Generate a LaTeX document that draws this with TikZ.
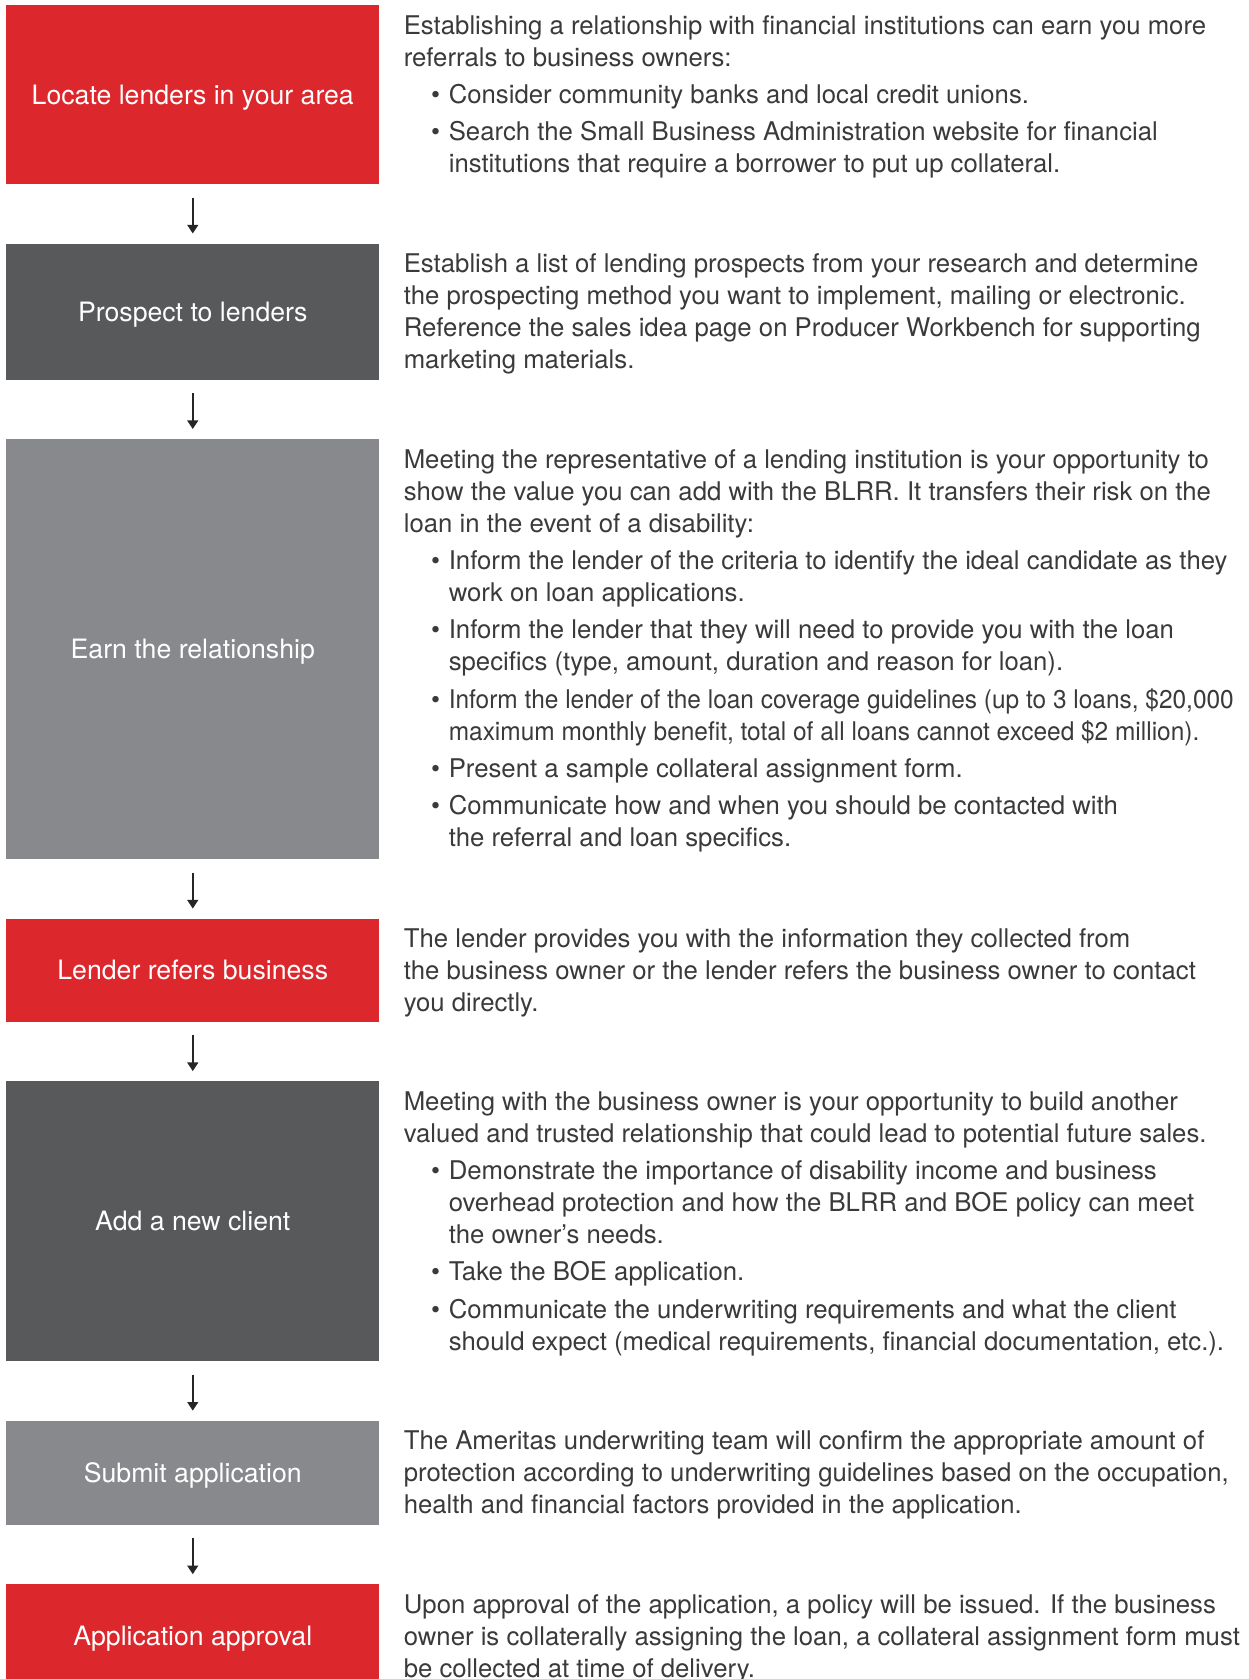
\documentclass[tikz,border=0pt]{standalone}
\usepackage{fontspec}
\setmainfont{TeX Gyre Heros}
\usepackage{graphicx}
\usepackage{tikz}
\usetikzlibrary{arrows.meta, positioning}
\definecolor{stepred}{RGB}{220,39,45}
\definecolor{stepdark}{RGB}{88,89,91}
\definecolor{steplight}{RGB}{136,137,140}
\definecolor{bodygray}{RGB}{58,58,60}
\newcommand{\bulletitem}{\hspace*{20.5pt}\makebox[13.25pt][l]{\textbullet}}
\newcommand{\bulletcont}{\hspace*{33.75pt}}
\newcommand{\narrow}[1]{\scalebox{0.95}[1]{#1}}
\tikzset{
  stepbox/.style={minimum width=279.75pt, inner sep=0pt, text=white, text height=14pt, text depth=0pt, font=\fontsize{20}{24}\selectfont},
  redbox/.style={stepbox, fill=stepred},
  darkbox/.style={stepbox, fill=stepdark},
  lightbox/.style={stepbox, fill=steplight},
  desc/.style={align=left, inner sep=0pt, text=bodygray, font=\fontsize{19.3}{24}\selectfont, execute at begin node=\strut},
  flow/.style={-{Triangle[length=6.5pt,width=8pt]}, line width=1.7pt, shorten <=9.75pt, shorten >=7.5pt, draw=black!85}
}

\begin{document}
\begin{tikzpicture}
\useasboundingbox (0,0) rectangle (936.75pt,-1259.25pt);
\node[redbox, minimum height=134.25pt, anchor=north west] (B1) at (4.5pt,-3.75pt) {Locate lenders in your area};
\node[darkbox, minimum height=102pt, below = 44.25pt of B1] (B2) {Prospect to lenders};
\node[lightbox, minimum height=315pt, below = 44.25pt of B2] (B3) {Earn the relationship};
\node[redbox, minimum height=77.25pt, below = 44.25pt of B3] (B4) {Lender refers business};
\node[darkbox, minimum height=210pt, below = 44.25pt of B4] (B5) {Add a new client};
\node[lightbox, minimum height=78pt, below = 44.25pt of B5] (B6) {Submit application};
\node[redbox, minimum height=78pt, below = 44.25pt of B6] (B7) {Application approval};
\draw[flow] (B1) -- (B2);
\draw[flow] (B2) -- (B3);
\draw[flow] (B3) -- (B4);
\draw[flow] (B4) -- (B5);
\draw[flow] (B5) -- (B6);
\draw[flow] (B6) -- (B7);
\node[desc, below right = 7.5pt and 18pt of B1.north east] (D1) {Establishing a relationship with financial institutions can earn you more\\
referrals to business owners:\\[4pt]
\bulletitem Consider community banks and local credit unions.\\[4pt]
\bulletitem Search the Small Business Administration website for financial\\
\bulletcont institutions that require a borrower to put up collateral.};
\node[desc, below right = 7.5pt and 18pt of B2.north east] (D2) {Establish a list of lending prospects from your research and determine\\
the prospecting method you want to implement, mailing or electronic.\\
Reference the sales idea page on Producer Workbench for supporting\\
marketing materials.};
\node[desc, below right = 7.5pt and 18pt of B3.north east] (D3) {Meeting the representative of a lending institution is your opportunity to\\
show the value you can add with the BLRR. It transfers their risk on the\\
loan in the event of a disability:\\[4pt]
\bulletitem Inform the lender of the criteria to identify the ideal candidate as they\\
\bulletcont work on loan applications.\\[4pt]
\bulletitem Inform the lender that they will need to provide you with the loan\\
\bulletcont specifics (type, amount, duration and reason for loan).\\[4pt]
\bulletitem \narrow{Inform the lender of the loan coverage guidelines (up to 3 loans, \$20,000}\\
\bulletcont \narrow{maximum monthly benefit, total of all loans cannot exceed \$2 million).}\\[4pt]
\bulletitem Present a sample collateral assignment form.\\[4pt]
\bulletitem Communicate how and when you should be contacted with\\
\bulletcont the referral and loan specifics.};
\node[desc, below right = 7.5pt and 18pt of B4.north east] (D4) {The lender provides you with the information they collected from\\
the business owner or the lender refers the business owner to contact\\
you directly.};
\node[desc, below right = 7.5pt and 18pt of B5.north east] (D5) {Meeting with the business owner is your opportunity to build another\\
valued and trusted relationship that could lead to potential future sales.\\[4pt]
\bulletitem Demonstrate the importance of disability income and business\\
\bulletcont overhead protection and how the BLRR and BOE policy can meet\\
\bulletcont the owner’s needs.\\[4pt]
\bulletitem Take the BOE application.\\[4pt]
\bulletitem Communicate the underwriting requirements and what the client\\
\bulletcont should expect (medical requirements, financial documentation, etc.).};
\node[desc, below right = 7.5pt and 18pt of B6.north east] (D6) {The Ameritas underwriting team will confirm the appropriate amount of\\
protection according to underwriting guidelines based on the occupation,\\
health and financial factors provided in the application.};
\node[desc, below right = 7.5pt and 18pt of B7.north east] (D7) {Upon approval of the application, a policy will be issued. If the business\\
owner is collaterally assigning the loan, a collateral assignment form must\\
be collected at time of delivery.};
\end{tikzpicture}
\end{document}
